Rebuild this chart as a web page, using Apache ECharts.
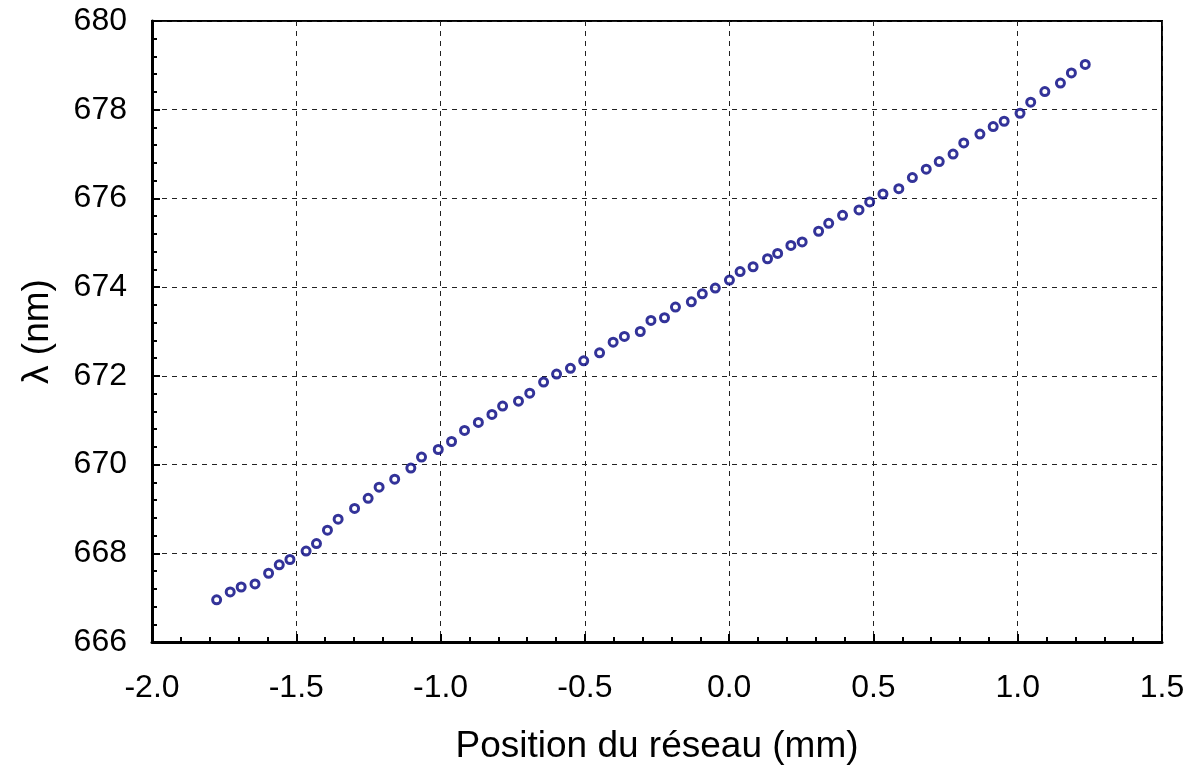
<!DOCTYPE html>
<html>
<head>
<meta charset="utf-8">
<script src="https://cdn.jsdelivr.net/npm/echarts@6/dist/echarts.min.js"></script>
<style>
  html, body { margin: 0; padding: 0; background: #fff; }
  #chart { width: 1190px; height: 770px; }
</style>
</head>
<body>
<div id="chart"></div>
<script>
// position du réseau (mm)
const positions = [
  -1.776, -1.729, -1.691, -1.643, -1.596, -1.559, -1.522, -1.466, -1.430, -1.392,
  -1.355, -1.298, -1.251, -1.213, -1.159, -1.103, -1.066, -1.008, -0.962, -0.917,
  -0.869, -0.822, -0.785, -0.730, -0.691, -0.643, -0.598, -0.550, -0.504, -0.449,
  -0.402, -0.363, -0.308, -0.271, -0.224, -0.186, -0.131, -0.093, -0.048, 0.001,
  0.038, 0.083, 0.133, 0.168, 0.214, 0.253, 0.310, 0.345, 0.393, 0.450,
  0.487, 0.533, 0.588, 0.635, 0.683, 0.728, 0.776, 0.813, 0.869, 0.915,
  0.953, 1.008, 1.045, 1.094, 1.148, 1.186, 1.234
]
// longueur d'onde (nm)
const lambdas = [
  666.95, 667.13, 667.24, 667.31, 667.55, 667.74, 667.86, 668.05, 668.22, 668.52,
  668.77, 669.01, 669.24, 669.49, 669.67, 669.92, 670.17, 670.34, 670.52, 670.77,
  670.95, 671.13, 671.32, 671.43, 671.61, 671.86, 672.04, 672.17, 672.34, 672.52,
  672.76, 672.89, 673.00, 673.25, 673.31, 673.55, 673.67, 673.85, 673.98, 674.16,
  674.35, 674.46, 674.64, 674.76, 674.94, 675.02, 675.26, 675.44, 675.62, 675.74,
  675.92, 676.10, 676.22, 676.47, 676.66, 676.83, 677.00, 677.25, 677.45, 677.62,
  677.74, 677.92, 678.17, 678.41, 678.60, 678.83, 679.02
]
const xTicks = { min: -2.0, max: 1.5, step: 0.5 }
const yTicks = { min: 666, max: 680, step: 2 }

const chart = echarts.init(document.getElementById('chart'))

const font = 'Liberation Sans, Arial, sans-serif'
const gridLine = { show: true, lineStyle: { color: '#222', type: [5, 5], width: 1 } }

chart.setOption({
  animation: false,
  grid: {
    left: 152, top: 21, right: 28, bottom: 123,
    show: true, borderColor: '#000', borderWidth: 2
  },
  xAxis: {
    type: 'value',
    min: xTicks.min, max: xTicks.max, interval: xTicks.step,
    name: 'Position du réseau (mm)',
    nameLocation: 'middle',
    nameGap: 86,
    nameTextStyle: { fontFamily: font, fontSize: 37, color: '#000' },
    axisLine: { show: true, onZero: false, lineStyle: { color: '#000', width: 3 } },
    axisTick: { inside: true, length: 8, lineStyle: { color: '#000', width: 2 } },
    minorTick: { show: true, splitNumber: 5, length: 5, lineStyle: { color: '#000', width: 2 } },
    axisLabel: {
      margin: 30, fontFamily: font, fontSize: 32, color: '#000',
      formatter: v => v.toFixed(1)
    },
    splitLine: gridLine
  },
  yAxis: {
    type: 'value',
    min: yTicks.min, max: yTicks.max, interval: yTicks.step,
    name: 'λ (nm)',
    nameLocation: 'middle',
    nameGap: 96,
    nameTextStyle: { fontFamily: font, fontSize: 37, color: '#000' },
    axisLine: { show: true, onZero: false, lineStyle: { color: '#000', width: 3 } },
    axisTick: { inside: true, length: 8, lineStyle: { color: '#000', width: 2 } },
    minorTick: { show: true, splitNumber: 5, length: 5, lineStyle: { color: '#000', width: 2 } },
    axisLabel: { margin: 25, fontFamily: font, fontSize: 32, color: '#000' },
    splitLine: gridLine
  },
  series: [{
    type: 'scatter',
    data: positions.map((x, i) => [x, lambdas[i]]),
    symbol: 'circle',
    symbolSize: 8,
    itemStyle: { color: '#fff', borderColor: '#000080', borderWidth: 3 }
  }]
})
</script>
</body>
</html>
